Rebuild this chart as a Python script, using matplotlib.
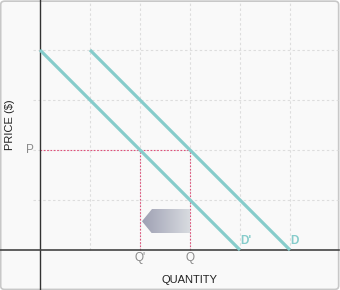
import matplotlib
matplotlib.use("Agg")
import matplotlib.pyplot as plt
import numpy as np
from matplotlib.patches import Polygon, FancyBboxPatch

plt.rcParams['font.family'] = ['Liberation Sans', 'DejaVu Sans']

# Data
d_q = [1, 5]          # original demand D
d_p = [4, 0]
dprime_q = [0, 4]     # shifted demand D'
dprime_p = [4, 0]
price_p = 2
qty_q = 3
qty_qprime = 2
grid_x = [1, 2, 3, 4, 5]
grid_y = [1, 2, 3, 4]

teal = '#86cccb'
red = '#e0507a'

fig = plt.figure(figsize=(3.4, 2.9), dpi=100)
fig.patch.set_facecolor('white')
bg = FancyBboxPatch((0.002, 0.002), 0.994, 0.994, boxstyle="round,pad=0,rounding_size=0.012",
                    transform=fig.transFigure, facecolor='#f9f9f9', edgecolor='#c8c8c8', lw=1.2,
                    zorder=-10)
fig.patches.append(bg)

ax = fig.add_axes([0, 0, 1, 1])
ax.set_zorder(5)
ax.set_xlim(-0.8, 6.0)
ax.set_ylim(-0.8, 5.0)
ax.axis('off')
ax.patch.set_alpha(0)

# grid
for gx in grid_x:
    ax.plot([gx, gx], [0, 4.95], color='#dddddd', lw=0.8, ls=(0, (2.2, 2.2)), zorder=1)
for gy in grid_y:
    ax.plot([-0.14, 5.96], [gy, gy], color='#dddddd', lw=0.8, ls=(0, (2.2, 2.2)), zorder=1)

# axes
ax.plot([0, 0], [-0.8, 5.0], color='#333333', lw=1.0, zorder=3)
ax.plot([-0.8, 5.98], [0, 0], color='#444444', lw=1.2, zorder=3)

# reference lines
ax.plot([0, qty_q], [price_p, price_p], color=red, lw=0.8, ls=(0, (1.5, 1.5)), zorder=2)
ax.plot([qty_qprime, qty_qprime], [0, price_p], color=red, lw=0.8, ls=(0, (1.5, 1.5)), zorder=2)
ax.plot([qty_q, qty_q], [0, price_p], color=red, lw=0.8, ls=(0, (1.5, 1.5)), zorder=2)

# demand curves
ax.plot(d_q, d_p, color=teal, lw=2.3, solid_capstyle='butt', zorder=4)
ax.plot(dprime_q, dprime_p, color=teal, lw=2.3, solid_capstyle='butt', zorder=4)

# gradient arrow
verts = [(2.04, 0.575), (2.24, 0.82), (3.0, 0.82), (3.0, 0.33), (2.24, 0.33)]
poly = Polygon(verts, closed=True, facecolor='none', edgecolor='none')
ax.add_patch(poly)
grad = np.linspace(0, 1, 256).reshape(1, -1)
c0 = np.array([0x9e, 0xa0, 0xb3]) / 255
c1 = np.array([0xd8, 0xdb, 0xe0]) / 255
img = c0[None, None, :] * (1 - grad[..., None]) + c1[None, None, :] * grad[..., None]
im = ax.imshow(img, extent=[2.04, 3.0, 0.33, 0.82], aspect='auto', zorder=3, interpolation='bilinear')
im.set_clip_path(poly)
ax.set_xlim(-0.8, 6.0)
ax.set_ylim(-0.8, 5.0)

# labels
ax.text(-0.2, price_p, 'P', color='#8a8a8a', fontsize=8.5, ha='center', va='center')
ax.text(qty_qprime, -0.17, "Q'", color='#8a8a8a', fontsize=8.5, ha='center', va='center')
ax.text(qty_q, -0.17, 'Q', color='#8a8a8a', fontsize=8.5, ha='center', va='center')
ax.text(3.0, -0.6, 'QUANTITY', color='#222222', fontsize=8, ha='center', va='center')
ax.text(-0.6, 2.5, 'PRICE ($)', color='#222222', fontsize=8, ha='center', va='center', rotation=90)
ax.text(4.01, 0.19, "D'", color=teal, fontsize=8.5, fontweight='bold', ha='left', va='center')
ax.text(5.01, 0.19, 'D', color=teal, fontsize=8.5, fontweight='bold', ha='left', va='center')

fig.savefig('out.png', dpi=100, facecolor=fig.get_facecolor())
